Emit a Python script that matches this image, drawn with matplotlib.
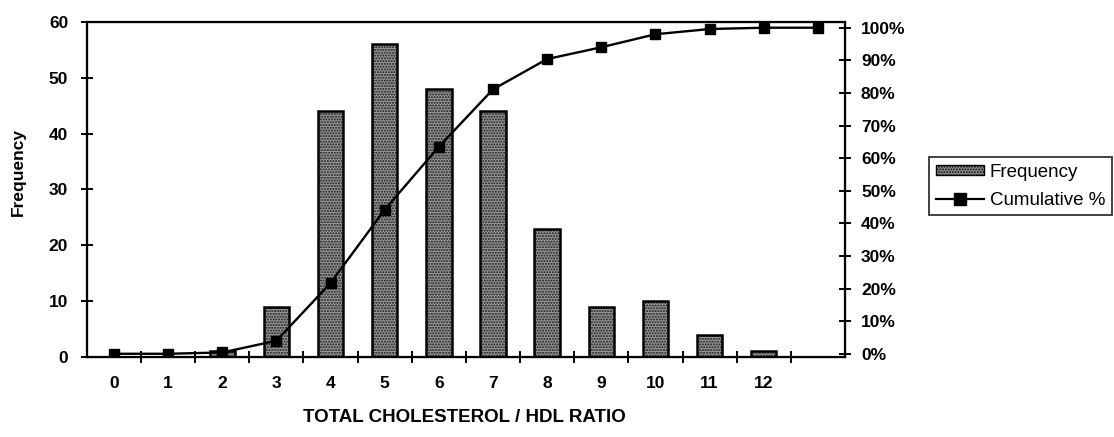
import matplotlib
matplotlib.use('Agg')
import matplotlib.pyplot as plt
from matplotlib.ticker import PercentFormatter, FixedLocator
from matplotlib.lines import Line2D
from matplotlib.patches import Patch

plt.rcParams['font.family'] = ['Liberation Sans', 'DejaVu Sans']

# histogram bins of total cholesterol / HDL ratio, last bin is "More"
bins = ['0', '1', '2', '3', '4', '5', '6', '7', '8', '9', '10', '11', '12', '']
frequency = [0, 0, 1, 9, 44, 56, 48, 44, 23, 9, 10, 4, 1, 0]
cumulative = [0.0, 0.0, 0.4, 4.0, 21.7, 44.2, 63.5, 81.1, 90.4, 94.0, 98.0, 99.6, 100.0, 100.0]

x = list(range(len(bins)))

fig = plt.figure(figsize=(11.14, 4.37), dpi=100)
ax = fig.add_axes([0.078, 0.183, 0.6805, 0.767])

bar_face = '#969696'
bar_hatch = '......'

# speckled grey fill, then black outline on top
ax.bar(x, frequency, width=0.47, color=bar_face, edgecolor='#1a1a1a',
       hatch=bar_hatch, linewidth=0, zorder=2)
ax.bar(x, frequency, width=0.47, fill=False, edgecolor='black',
       linewidth=1.8, zorder=3)

ax.set_xlim(-0.5, len(bins) - 0.5)
ax.set_ylim(0, 60)
ax.set_yticks(range(0, 61, 10))
ax.set_xticks(x)
ax.set_xticklabels(bins)
ax.xaxis.set_minor_locator(FixedLocator([i + 0.5 for i in x[:-1]]))
ax.tick_params(axis='x', which='major', length=0, pad=14)
ax.tick_params(axis='x', which='minor', direction='inout', length=9, width=1.4)
ax.tick_params(axis='y', direction='inout', length=9, width=1.4, pad=9)
for lab in ax.get_xticklabels() + ax.get_yticklabels():
    lab.set_fontsize(12.5)
    lab.set_fontweight('bold')
for s in ax.spines.values():
    s.set_linewidth(1.6)

ax2 = ax.twinx()
ax2.plot(x, cumulative, color='black', linewidth=1.7, marker='s',
         markersize=7.5, zorder=4)
ax2.set_ylim(-1.0, 101.8)
ax2.set_yticks(range(0, 101, 10))
ax2.yaxis.set_major_formatter(PercentFormatter(decimals=0))
ax2.tick_params(axis='y', direction='inout', length=9, width=1.4, pad=7)
for lab in ax2.get_yticklabels():
    lab.set_fontsize(12.5)
    lab.set_fontweight('bold')
ax2.set_zorder(ax.get_zorder() + 1)

fig.text(18 / 1114, 1 - 172 / 437, 'Frequency', rotation=90, ha='center',
         va='center', fontsize=12.5, fontweight='bold')
fig.text(464 / 1114, 1 - 418 / 437, 'TOTAL CHOLESTEROL / HDL RATIO',
         ha='center', va='center', fontsize=13.5, fontweight='bold')

handles = [Patch(facecolor=bar_face, edgecolor='black', hatch=bar_hatch),
           Line2D([], [], color='black', marker='s', markersize=8, linewidth=1.6)]
leg = fig.legend(handles, ['Frequency', 'Cumulative %'], loc='upper left',
                 bbox_to_anchor=(929 / 1114, 1 - 157 / 437), frameon=True,
                 fancybox=False, edgecolor='black', fontsize=13.5,
                 handlelength=2.6, handleheight=0.5, handletextpad=0.3,
                 borderpad=0.35, labelspacing=0.6, borderaxespad=0)
leg.get_frame().set_linewidth(1.3)

fig.savefig('out.png', dpi=100)
